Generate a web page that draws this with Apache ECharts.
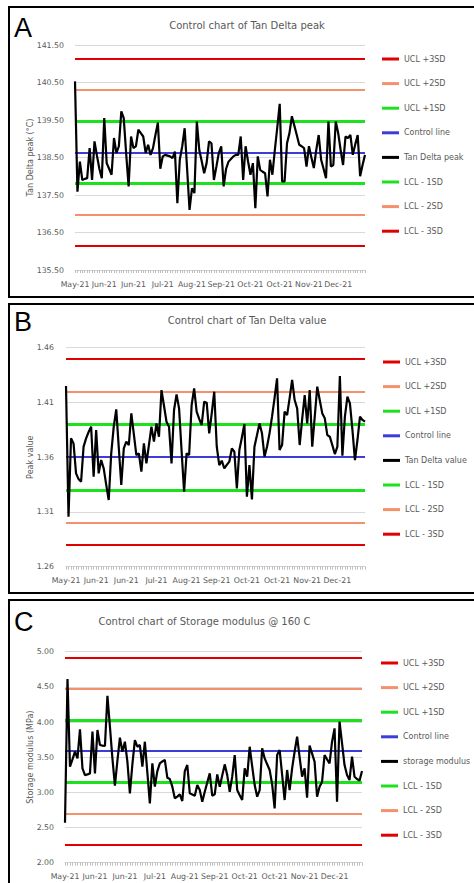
<!DOCTYPE html>
<html><head><meta charset="utf-8">
<script src="https://cdn.jsdelivr.net/npm/echarts@6/dist/echarts.min.js"></script>
<style>
html,body{margin:0;padding:0;background:#fff;overflow:hidden;width:474px;height:883px;}
.chart{position:absolute;left:0;width:474px;}
.frame{position:absolute;border:2px solid #000;box-sizing:border-box;pointer-events:none;}
</style></head><body>
<div class="chart" id="cA" style="top:0;height:300px"></div>
<div class="chart" id="cB" style="top:300px;height:295px"></div>
<div class="chart" id="cC" style="top:595px;height:288px"></div>
<div class="frame" style="left:8px;top:6px;width:480px;height:292px"></div>
<div class="frame" style="left:8px;top:303px;width:480px;height:291px"></div>
<div class="frame" style="left:8px;top:599px;width:480px;height:300px"></div>
<script>
// ---------- data ----------
const tickLabels = ['May-21','Jun-21','Jun-21','Jul-21','Aug-21','Sep-21','Oct-21','Oct-21','Nov-21','Dec-21'];
const labelEvery = 12;
const categories = Array.from({length: 120}, (_, i) => i);

const limitNames = ['UCL +3SD','UCL +2SD','UCL +1SD','Control line','LCL - 1SD','LCL - 2SD','LCL - 3SD'];

const tanDeltaPeak = [140.53,137.59,138.39,137.90,137.93,137.95,138.75,137.90,138.93,138.55,
138.20,137.95,139.55,138.35,138.20,138.04,139.02,138.62,138.80,139.73,
139.55,138.60,137.73,139.06,138.75,138.80,139.24,139.15,139.06,138.62,
138.84,138.57,138.75,139.10,139.43,138.20,138.53,138.57,138.55,138.53,
138.48,138.66,137.28,138.44,138.80,139.28,138.20,137.10,137.68,137.55,
139.46,138.70,138.40,138.08,138.35,138.93,138.88,137.90,138.25,138.62,
138.80,137.73,138.20,138.39,138.46,138.53,138.57,138.57,139.06,137.90,
138.80,138.40,138.04,138.35,137.15,138.53,138.17,138.12,138.08,137.46,
138.44,138.04,138.70,139.30,139.93,137.86,137.86,138.88,139.15,139.60,
139.35,139.10,138.84,138.80,138.75,138.26,138.80,138.50,138.22,138.70,
139.10,138.44,138.20,137.95,139.46,138.26,138.30,139.46,139.15,138.70,
138.30,139.06,139.02,139.10,138.57,138.85,139.10,138.00,138.30,138.57];
const tanDeltaPeakLimits = [141.14,140.31,139.48,138.64,137.81,136.97,136.14];

const tanDeltaValue = [1.425,1.3057,1.3772,1.3726,1.3452,1.340,1.3376,1.3696,1.3772,1.383,
1.3879,1.3422,1.3848,1.3452,1.3574,1.3498,1.335,1.3209,1.3635,1.3879,
1.4037,1.369,1.3346,1.3681,1.3742,1.3711,1.400,1.381,1.362,1.3635,
1.3468,1.3726,1.3544,1.371,1.3879,1.3742,1.3909,1.3787,1.4213,1.407,
1.3924,1.3879,1.3544,1.4031,1.4174,1.4046,1.366,1.3285,1.3635,1.362,
1.4076,1.4229,1.4016,1.395,1.3894,1.4107,1.4098,1.3818,1.400,1.4198,
1.3696,1.3528,1.3568,1.3498,1.353,1.3559,1.3681,1.365,1.3315,1.3666,
1.378,1.3903,1.3239,1.3528,1.3215,1.3696,1.380,1.3909,1.3818,1.3605,
1.3696,1.3818,1.397,1.414,1.432,1.3666,1.3711,1.4016,1.3985,1.414,
1.4305,1.4122,1.4046,1.3711,1.395,1.4168,1.3909,1.4213,1.3696,1.397,
1.4244,1.412,1.400,1.3955,1.3802,1.3787,1.371,1.3629,1.3696,1.4341,
1.3614,1.397,1.4153,1.4092,1.385,1.3574,1.3757,1.397,1.394,1.3924];
const tanDeltaValueLimits = [1.4478,1.4193,1.391,1.362,1.333,1.3045,1.276];

const storageModulus = [2.569,4.611,3.365,3.47,3.578,3.483,3.896,3.341,3.246,3.255,
3.270,3.863,3.270,3.886,3.673,3.665,3.659,4.374,3.934,3.483,
3.095,3.45,3.777,3.578,3.720,3.436,2.986,3.40,3.744,3.649,
3.673,3.365,3.720,3.28,2.844,3.412,3.081,3.303,3.412,3.44,
3.460,3.209,3.190,3.081,2.915,2.94,2.972,2.877,3.303,3.389,
2.986,2.97,2.953,3.104,3.033,2.867,3.009,3.14,3.270,2.953,
2.972,3.256,3.081,3.24,3.398,3.246,3.009,3.223,3.531,3.033,
2.96,2.891,3.341,3.223,3.649,3.37,3.104,2.938,3.033,3.626,
3.483,3.40,3.318,3.114,2.773,3.531,3.602,3.25,2.891,3.318,
3.033,3.341,3.578,3.791,3.50,3.223,3.341,2.924,3.664,3.55,
3.436,2.938,3.081,3.152,3.531,3.47,3.412,3.720,3.910,2.867,
4.005,3.70,3.389,3.246,3.175,3.507,3.223,3.19,3.166,3.303];
const storageModulusLimits = [4.925,4.48,4.03,3.59,3.147,2.69,2.255];

// ---------- styling ----------
const FONT = 'DejaVu Sans';
const GREY = '#595959';
const limitColors = ['#e00000','#f4916c','#1ee11e','#3c3cd8','#1ee11e','#f4916c','#e00000'];
const limitWidths = [2,2,3,2,3,2,2];

function build(el, cfg) {
  const chart = echarts.init(document.getElementById(el), null, {renderer: 'svg'});
  const series = [];
  limitNames.forEach((n, k) => {
    series.push({
      type: 'line', name: n, data: [],
      itemStyle: {color: limitColors[k]},
      lineStyle: {color: limitColors[k], width: limitWidths[k]},
      markLine: {
        silent: true, symbol: ['none','none'], label: {show: false},
        emphasis: {disabled: true}, animation: false,
        lineStyle: {color: limitColors[k], width: limitWidths[k], type: 'solid'},
        data: [{yAxis: cfg.limits[k]}]
      }
    });
  });
  series.push({
    type: 'line', name: cfg.dataName, data: cfg.values, symbol: 'none', showSymbol: false,
    z: 10, itemStyle: {color: '#000'}, lineStyle: {color: '#000', width: 2.2}
  });
  const legendData = limitNames.slice(0, 4).concat([cfg.dataName], limitNames.slice(4));
  chart.setOption({
    animation: false,
    grid: cfg.grid,
    graphic: [
      {type: 'text', x: cfg.titleX, y: cfg.titleY, style: {text: cfg.title, align: 'center', verticalAlign: 'middle', fontSize: 10, fontFamily: FONT, fill: GREY}},
      {type: 'text', x: 14, y: cfg.letterY, style: {text: cfg.letter, align: 'left', verticalAlign: 'middle', fontSize: 27, fontFamily: 'Liberation Sans', fill: '#000'}}
    ],
    legend: {
      orient: 'vertical', left: cfg.legendLeft, top: cfg.legendTop, data: legendData, padding: 0,
      icon: 'rect', itemWidth: 17, itemHeight: 3, itemGap: 12.6, selectedMode: false,
      textStyle: {color: GREY, fontSize: 8, fontFamily: FONT, lineHeight: 12}
    },
    xAxis: {
      type: 'category', data: categories, boundaryGap: false,
      axisLine: {lineStyle: {color: '#d0d0d0', width: 1}},
      axisTick: {show: true, interval: 0, length: 3, lineStyle: {color: '#bfbfbf'}},
      axisLabel: {
        interval: (i) => i % labelEvery === 0,
        formatter: (v, i) => tickLabels[i / labelEvery] || '',
        color: GREY, fontSize: 7.8, fontFamily: FONT, margin: cfg.xMargin
      }
    },
    yAxis: {
      type: 'value', min: cfg.yMin, max: cfg.yMax, interval: cfg.yInterval,
      axisLine: {show: false}, axisTick: {show: false},
      splitLine: {lineStyle: {color: '#d9d9d9', width: 1}},
      axisLabel: {formatter: (v) => v.toFixed(2), color: GREY, fontSize: 7.8, fontFamily: FONT, margin: cfg.yMargin},
      name: cfg.yName, nameLocation: 'middle', nameGap: cfg.nameGap, nameMoveOverlap: false,
      nameTextStyle: {color: GREY, fontSize: 8, fontFamily: FONT}
    },
    series: series
  });
}

build('cA', {
  values: tanDeltaPeak, limits: tanDeltaPeakLimits, dataName: 'Tan Delta peak',
  title: 'Control chart of Tan Delta peak', titleX: 247, titleY: 25, letter: 'A', letterY: 28,
  grid: {left: 75, top: 45, width: 290, height: 225},
  legendLeft: 382, legendTop: 53,
  yMin: 135.5, yMax: 141.5, yInterval: 1, yName: 'Tan Delta peak (°C)', nameGap: 41,
  xMargin: 10, yMargin: 11
});
build('cB', {
  values: tanDeltaValue, limits: tanDeltaValueLimits, dataName: 'Tan Delta value',
  title: 'Control chart of Tan Delta value', titleX: 247, titleY: 20.7, letter: 'B', letterY: 22,
  grid: {left: 66, top: 47.7, width: 299, height: 219},
  legendLeft: 383, legendTop: 56,
  yMin: 1.26, yMax: 1.46, yInterval: 0.05, yName: 'Peak value', nameGap: 32,
  xMargin: 9.5, yMargin: 12
});
build('cC', {
  values: storageModulus, limits: storageModulusLimits, dataName: 'storage modulus',
  title: 'Control chart of Storage modulus @ 160 C', titleX: 204.5, titleY: 26.7, letter: 'C', letterY: 27,
  grid: {left: 65, top: 56.7, width: 297, height: 211},
  legendLeft: 381, legendTop: 62,
  yMin: 2, yMax: 5, yInterval: 0.5, yName: 'Storage modulus (MPa)', nameGap: 31,
  xMargin: 10, yMargin: 11
});
</script>
</body></html>
